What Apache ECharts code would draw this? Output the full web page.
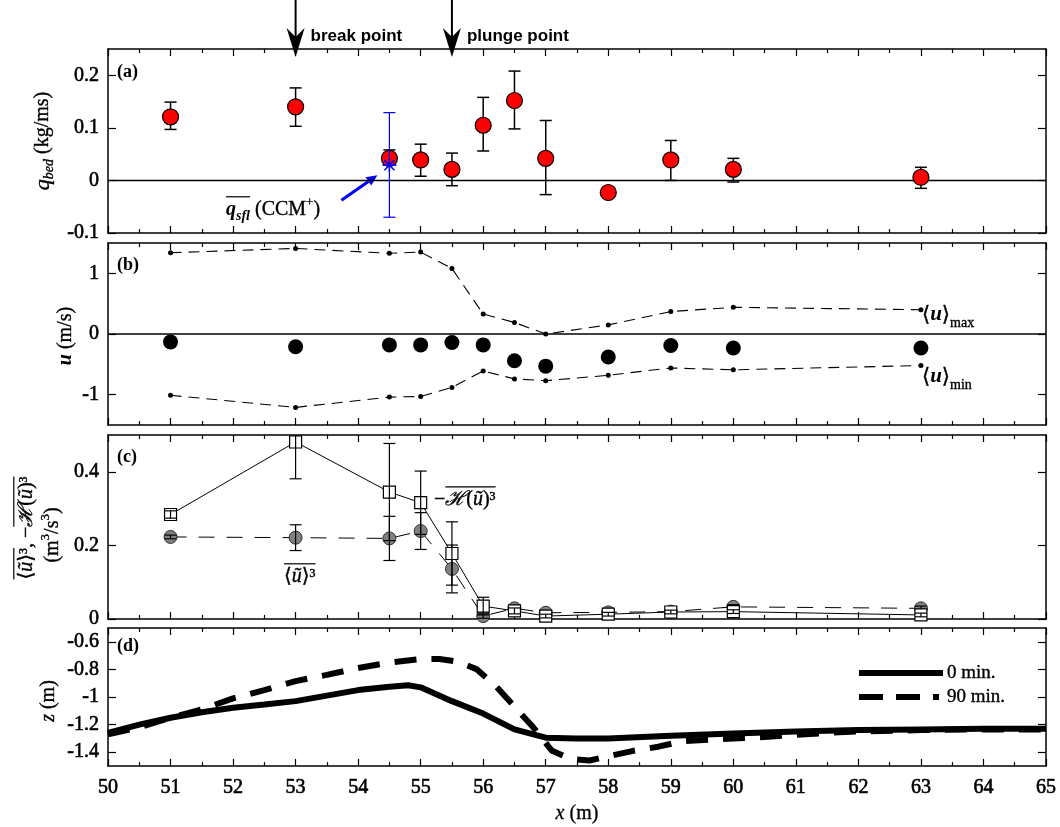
<!DOCTYPE html>
<html><head><meta charset="utf-8">
<script src="https://cdn.jsdelivr.net/npm/echarts@6/dist/echarts.min.js"></script>
<style>html,body{margin:0;padding:0;background:#fff}#c{width:1060px;height:827px}</style>
</head><body><div id="c"></div>
<script>
// ---------------- data ----------------
const xPos = [51, 53, 54.5, 55, 55.5, 56, 56.5, 57, 58, 59, 60, 63];
// (a) bed-load transport
const qBed   = [0.121, 0.140, 0.042, 0.039, 0.021, 0.105, 0.152, 0.042, -0.023, 0.039, 0.021, 0.006];
const qBedLo = [0.097, 0.103, 0.030, 0.008, -0.010, 0.056, 0.098, -0.027, null, 0.000, -0.003, -0.015];
const qBedHi = [0.149, 0.176, 0.058, 0.069, 0.052, 0.158, 0.208, 0.114, null, 0.076, 0.042, 0.025];
const qSflX = [54.5];
const qSfl = [0.029];
const qSflLo = [-0.070];
const qSflHi = [0.129];
// (b) velocities
const uMean = [-0.13, -0.21, -0.18, -0.18, -0.14, -0.18, -0.44, -0.53, -0.38, -0.19, -0.23, -0.23];
const uMax  = [1.34, 1.41, 1.33, 1.35, 1.08, 0.33, 0.19, 0.00, 0.15, 0.37, 0.44, 0.40];
const uMin  = [-1.01, -1.21, -1.04, -1.03, -0.88, -0.61, -0.74, -0.77, -0.68, -0.56, -0.59, -0.52];
// (c) velocity moments
const hU3   = [0.284, 0.481, 0.345, 0.316, 0.178, 0.035, 0.022, 0.008, 0.013, 0.019, 0.020, 0.011];
const hU3Lo = [0.274, 0.381, 0.213, 0.230, 0.092, 0.011, 0.014, 0.003, 0.008, 0.014, 0.015, 0.006];
const hU3Hi = [0.294, 0.581, 0.477, 0.402, 0.264, 0.059, 0.030, 0.013, 0.018, 0.024, 0.025, 0.016];
const u3    = [0.223, 0.221, 0.219, 0.239, 0.136, 0.008, 0.029, 0.017, 0.018, 0.020, 0.033, 0.029];
const u3Lo  = [0.218, 0.186, 0.159, 0.189, 0.071, 0.002, 0.023, 0.012, 0.013, 0.015, 0.027, 0.023];
const u3Hi  = [0.228, 0.256, 0.279, 0.289, 0.201, 0.014, 0.035, 0.022, 0.023, 0.025, 0.039, 0.035];
// (d) bed profiles
const bed0X = [50, 50.5, 51, 51.5, 52, 52.5, 53, 53.5, 54, 54.5, 54.8, 55, 55.5, 56, 56.5, 57, 57.5, 58, 59, 60, 61, 62, 63, 64, 65];
const bed0  = [-1.26, -1.20, -1.15, -1.11, -1.078, -1.055, -1.03, -0.99, -0.95, -0.925, -0.915, -0.93, -1.03, -1.12, -1.235, -1.295, -1.30, -1.30, -1.28, -1.265, -1.25, -1.24, -1.235, -1.23, -1.23];
const bed90X = [50, 50.5, 51, 51.5, 52, 52.5, 53, 53.5, 54, 54.5, 55, 55.3, 55.6, 55.9, 56.2, 56.5, 56.8, 57.1, 57.4, 57.7, 58.0, 58.4, 58.8, 59.2, 59.6, 60, 60.5, 61, 61.5, 62, 63, 64, 65];
const bed90  = [-1.27, -1.22, -1.15, -1.09, -1.01, -0.95, -0.885, -0.84, -0.79, -0.75, -0.725, -0.725, -0.745, -0.80, -0.92, -1.07, -1.22, -1.39, -1.45, -1.46, -1.43, -1.39, -1.36, -1.32, -1.31, -1.30, -1.29, -1.275, -1.26, -1.25, -1.24, -1.235, -1.235];
// axes / ticks
const xMin = 50, xMax = 65;
const yRange = [[-0.1, 0.25], [-1.5, 1.5], [0, 0.5], [-1.5, -0.5]];
const yTicks = [[-0.1, 0, 0.1, 0.2], [-1, 0, 1], [0, 0.2, 0.4], [-1.4, -1.2, -1, -0.8, -0.6]];
const markX = [53, 55.5];
const markText = ['break point', 'plunge point'];
const legendNames = ['0 min.', '90 min.'];

// ---------------- chart ----------------
const SERIF = '"Liberation Serif", "Times New Roman", "DejaVu Serif", serif';
const SANS = '"Liberation Sans", Arial, "DejaVu Sans", sans-serif';
const chart = echarts.init(document.getElementById('c'), null, {renderer: 'canvas'});

const gridTops = [49, 243, 435, 628];
const gridHeights = [184, 182, 184, 138];
const grids = gridTops.map((t, i) => ({left: 108, right: 14, top: t, height: gridHeights[i], outerBoundsMode: 'none'}));

const HEAVY = {textBorderColor: '#000', textBorderWidth: 0.6};
const axLine = {show: true, onZero: false, lineStyle: {color: '#000', width: 1.5}};
const xAxes = [], yAxes = [];
for (let g = 0; g < 4; g++) {
  ['bottom', 'top'].forEach(pos => {
    const showLab = (g === 3 && pos === 'bottom');
    const ax = {
      type: 'value', gridIndex: g, position: pos, min: xMin, max: xMax, interval: 1,
      axisLine: axLine,
      axisTick: {show: true, inside: true, length: 7, lineStyle: {color: '#000', width: 1.2}},
      minorTick: {show: true, splitNumber: 2, length: 4, lineStyle: {color: '#000', width: 1.2}},
      splitLine: {show: false}, minorSplitLine: {show: false},
      axisLabel: showLab ? Object.assign({show: true, margin: 12, fontFamily: SERIF, fontSize: 20, color: '#000'}, HEAVY) : {show: false}
    };
    if (showLab) {
      ax.name = '{i|x} (m)';
      ax.nameLocation = 'middle';
      ax.nameGap = 38;
      ax.nameTextStyle = {fontFamily: SERIF, fontSize: 20, color: '#000', textBorderColor: '#000', textBorderWidth: 0.3,
        rich: {i: {fontFamily: SERIF, fontSize: 20, fontStyle: 'italic', color: '#000', textBorderColor: '#000', textBorderWidth: 0.3}}};
    }
    xAxes.push(ax);
  });
  ['left', 'right'].forEach(pos => {
    yAxes.push({
      type: 'value', gridIndex: g, position: pos, min: yRange[g][0], max: yRange[g][1],
      axisLine: axLine,
      axisTick: {show: true, inside: true, length: 8, customValues: yTicks[g], lineStyle: {color: '#000', width: 1.2}},
      splitLine: {show: false},
      axisLabel: pos === 'left' ? Object.assign({show: true, customValues: yTicks[g], margin: 9, fontFamily: SERIF, fontSize: 20, color: '#000',
        formatter: v => String(+(+v).toFixed(3))}, HEAVY) : {show: false}
    });
  });
}

function pairs(xs, ys) { return xs.map((x, i) => [x, ys[i]]); }
function errData(xs, lo, hi) { return xs.map((x, i) => [x, lo[i], hi[i]]).filter(d => d[1] != null && d[2] != null); }
function errRender(color, cap, lw) {
  return function (params, api) {
    const x = api.value(0), lo = api.value(1), hi = api.value(2);
    const a = api.coord([x, lo]), b = api.coord([x, hi]);
    const st = {stroke: color, lineWidth: lw};
    return {type: 'group', children: [
      {type: 'line', shape: {x1: a[0], y1: a[1], x2: b[0], y2: b[1]}, style: st},
      {type: 'line', shape: {x1: a[0] - cap, y1: a[1], x2: a[0] + cap, y2: a[1]}, style: st},
      {type: 'line', shape: {x1: b[0] - cap, y1: b[1], x2: b[0] + cap, y2: b[1]}, style: st}
    ]};
  };
}
function starRender(color) {
  return function (params, api) {
    const p = api.coord([api.value(0), api.value(1)]);
    const r = 7, d = r * 0.72, st = {stroke: color, lineWidth: 1.5};
    return {type: 'group', children: [
      {type: 'line', shape: {x1: p[0] - r, y1: p[1], x2: p[0] + r, y2: p[1]}, style: st},
      {type: 'line', shape: {x1: p[0], y1: p[1] - r, x2: p[0], y2: p[1] + r}, style: st},
      {type: 'line', shape: {x1: p[0] - d, y1: p[1] - d, x2: p[0] + d, y2: p[1] + d}, style: st},
      {type: 'line', shape: {x1: p[0] - d, y1: p[1] + d, x2: p[0] + d, y2: p[1] - d}, style: st}
    ]};
  };
}
function zeroLine(g) {
  return {type: 'line', xAxisIndex: 2 * g, yAxisIndex: 2 * g, data: [[xMin, 0], [xMax, 0]], symbol: 'none', silent: true,
    lineStyle: {color: '#000', width: 1.5}, z: 1};
}

const series = [
  // (a)
  zeroLine(0),
  {type: 'custom', xAxisIndex: 0, yAxisIndex: 0, data: errData(xPos, qBedLo, qBedHi), renderItem: errRender('#000', 6, 1.5), clip: true, silent: true, z: 2},
  {type: 'scatter', xAxisIndex: 0, yAxisIndex: 0, data: pairs(xPos, qBed), symbol: 'circle', symbolSize: 16,
    itemStyle: {color: '#ff0000', borderColor: '#000', borderWidth: 1.2, opacity: 1}, z: 3},
  {type: 'custom', xAxisIndex: 0, yAxisIndex: 0, data: errData(qSflX, qSflLo, qSflHi), renderItem: errRender('#0000ff', 6, 1.2), clip: true, silent: true, z: 4},
  {type: 'custom', xAxisIndex: 0, yAxisIndex: 0, data: pairs(qSflX, qSfl), renderItem: starRender('#0000ff'), silent: true, z: 5},
  // (b)
  zeroLine(1),
  {type: 'line', xAxisIndex: 2, yAxisIndex: 2, data: pairs(xPos, uMax), symbol: 'circle', symbolSize: 5, showSymbol: true,
    lineStyle: {color: '#000', width: 1.1, type: [11, 7]}, itemStyle: {color: '#000', borderWidth: 0}, z: 2},
  {type: 'line', xAxisIndex: 2, yAxisIndex: 2, data: pairs(xPos, uMin), symbol: 'circle', symbolSize: 5, showSymbol: true,
    lineStyle: {color: '#000', width: 1.1, type: [11, 7]}, itemStyle: {color: '#000', borderWidth: 0}, z: 2},
  {type: 'scatter', xAxisIndex: 2, yAxisIndex: 2, data: pairs(xPos, uMean), symbol: 'circle', symbolSize: 15,
    itemStyle: {color: '#000', opacity: 1}, z: 3},
  // (c)
  {type: 'line', xAxisIndex: 4, yAxisIndex: 4, data: pairs(xPos, u3), symbol: 'circle', symbolSize: 13, showSymbol: true,
    lineStyle: {color: '#000', width: 1, type: [16, 12]}, itemStyle: {color: '#808080', borderColor: '#333', borderWidth: 1}, z: 2},
  {type: 'custom', xAxisIndex: 4, yAxisIndex: 4, data: errData(xPos, u3Lo, u3Hi), renderItem: errRender('#000', 6, 1.2), clip: true, silent: true, z: 3},
  {type: 'line', xAxisIndex: 4, yAxisIndex: 4, data: pairs(xPos, hU3), symbol: 'rect', symbolSize: 12, showSymbol: true,
    lineStyle: {color: '#000', width: 1}, itemStyle: {color: '#fff', borderColor: '#000', borderWidth: 1.2}, z: 4},
  {type: 'custom', xAxisIndex: 4, yAxisIndex: 4, data: errData(xPos, hU3Lo, hU3Hi), renderItem: errRender('#000', 6, 1.2), clip: true, silent: true, z: 5},
  // (d)
  {type: 'line', name: legendNames[0], xAxisIndex: 6, yAxisIndex: 6, data: pairs(bed0X, bed0), symbol: 'none',
    lineStyle: {color: '#000', width: 6}, itemStyle: {color: '#000'}, z: 3},
  {type: 'line', name: legendNames[1], xAxisIndex: 6, yAxisIndex: 6, data: pairs(bed90X, bed90), symbol: 'none',
    lineStyle: {color: '#000', width: 6, type: [22, 15]}, itemStyle: {color: '#000'}, z: 2}
];

chart.setOption({
  animation: false,
  backgroundColor: '#fff',
  grid: grids, xAxis: xAxes, yAxis: yAxes, series
});

// ---------------- text helpers ----------------
const mctx = document.createElement('canvas').getContext('2d');
function fontStr(s) { return (s.style || 'normal') + ' ' + (s.weight || 'normal') + ' ' + s.size + 'px ' + (s.family || SERIF); }
function seg(t, o) { return Object.assign({t: t, size: 20}, o || {}); }
function textRow(cx, cy, segs, rot, anchor) {
  let x = 0; const items = [];
  segs.forEach(s => { mctx.font = fontStr(s); const w = mctx.measureText(s.t).width; items.push({s, x, w}); x += w; });
  const total = x;
  const off = anchor === 'left' ? 0 : (anchor === 'right' ? -total : -total / 2);
  const children = []; const overs = {};
  items.forEach(({s, x, w}) => {
    children.push({type: 'text', x: x + off, y: s.dy || 0, style: {text: s.t, fontSize: s.size, fontStyle: s.style || 'normal',
      fontWeight: s.weight || 'normal', fontFamily: s.family || SERIF, fill: s.fill || '#000', align: 'left', verticalAlign: 'middle',
      stroke: s.weight === 'bold' ? null : '#000', lineWidth: s.weight === 'bold' ? 0 : 0.35}});
    if (s.over != null) {
      const o = overs[s.over] || (overs[s.over] = {x0: Infinity, x1: -Infinity, y: Infinity});
      o.x0 = Math.min(o.x0, x + off); o.x1 = Math.max(o.x1, x + off + w);
      o.y = Math.min(o.y, (s.dy || 0) - s.size * (s.overK || 0.66));
    }
  });
  Object.keys(overs).forEach(k => { const o = overs[k];
    children.push({type: 'line', shape: {x1: o.x0, y1: o.y, x2: o.x1, y2: o.y}, style: {stroke: '#000', lineWidth: 1.2}}); });
  return {type: 'group', x: cx, y: cy, rotation: rot || 0, children};
}

const R = Math.PI / 2;
const graphics = [];
// y-axis names
graphics.push(textRow(43, 141, [seg('q', {style: 'italic', size: 22}), seg('bed', {style: 'italic', size: 14, dy: 6}), seg(' (kg/ms)')], R));
graphics.push(textRow(66, 336, [seg('u', {style: 'italic', weight: 'bold'}), seg(' (m/s)')], R));
graphics.push(textRow(27, 528, [seg('⟨', {over: 1}), seg('ũ', {style: 'italic', over: 1}), seg('⟩', {over: 1}), seg('³', {over: 1}),
  seg(', −'), seg('ℋ', {style: 'italic', over: 2}), seg('(', {over: 2}), seg('ũ', {style: 'italic', over: 2}), seg(')³', {over: 2})], R));
graphics.push(textRow(53, 535, [seg('(m'), seg('3', {size: 13, dy: -7}), seg('/s'), seg('3', {size: 13, dy: -7}), seg(')')], R));
graphics.push(textRow(49, 701, [seg('z', {style: 'italic'}), seg(' (m)')], R));
// panel tags
['(a)', '(b)', '(c)', '(d)'].forEach((t, i) => graphics.push(textRow(117, gridTops[i] + [23, 22, 22, 18][i], [seg(t, {weight: 'bold', size: 18})], 0, 'left')));
// annotations (b)
graphics.push(textRow(922, 315, [seg('⟨', {size: 21}), seg('u', {style: 'italic', weight: 'bold', size: 21}), seg('⟩', {size: 21}), seg('max', {size: 14, dy: 8})], 0, 'left'));
graphics.push(textRow(922, 377, [seg('⟨', {size: 21}), seg('u', {style: 'italic', weight: 'bold', size: 21}), seg('⟩', {size: 21}), seg('min', {size: 14, dy: 8})], 0, 'left'));
// annotations (c)
graphics.push(textRow(434, 500, [seg('−'), seg('ℋ', {style: 'italic', over: 1}), seg('(', {over: 1}), seg('ũ', {style: 'italic', over: 1}), seg(')³', {over: 1})], 0, 'left'));
graphics.push(textRow(284, 577, [seg('⟨', {over: 1}), seg('ũ', {style: 'italic', over: 1}), seg('⟩', {over: 1}), seg('³', {over: 1})], 0, 'left'));
// annotation (a): q_sfl (CCM+) with arrow
graphics.push(textRow(226, 210, [seg('q', {style: 'italic', weight: 'bold', over: 1}), seg('sfl', {style: 'italic', weight: 'bold', size: 14, dy: 6, over: 1}),
  seg(' (CCM'), seg('+', {size: 13, dy: -7}), seg(')')], 0, 'left'));
const P = chart.convertToPixel({xAxisIndex: 0, yAxisIndex: 0}, [qSflX[0], qSfl[0]]);
(function () {
  const S = [P[0] - 48, P[1] + 35], T = [P[0] - 12, P[1] + 10];
  const dx = T[0] - S[0], dy = T[1] - S[1], L = Math.hypot(dx, dy), ux = dx / L, uy = dy / L;
  const B = [T[0] - ux * 11, T[1] - uy * 11], nx = -uy, ny = ux;
  graphics.push({type: 'line', shape: {x1: S[0], y1: S[1], x2: B[0], y2: B[1]}, style: {stroke: '#0000ff', lineWidth: 3}});
  graphics.push({type: 'polygon', shape: {points: [T, [B[0] + nx * 5, B[1] + ny * 5], [B[0] - nx * 5, B[1] - ny * 5]]}, style: {fill: '#0000ff'}});
})();
// break / plunge point arrows
markX.forEach((mx, i) => {
  const px = chart.convertToPixel({xAxisIndex: 0}, mx);
  graphics.push({type: 'line', shape: {x1: px, y1: 0, x2: px, y2: 40}, style: {stroke: '#000', lineWidth: 2}});
  graphics.push({type: 'polygon', shape: {points: [[px - 9, 28], [px, 57], [px + 9, 28], [px, 37]]}, style: {fill: '#000'}});
  graphics.push({type: 'text', x: px + 15, y: 36, style: {text: markText[i], fontFamily: SANS, fontWeight: 'bold', fontSize: 17, fill: '#000', align: 'left', verticalAlign: 'middle'}});
});
// legend of panel (d)
const legY = [673, 697];
const legDash = [null, [24, 13]];
legendNames.forEach((nm, i) => {
  graphics.push({type: 'line', shape: {x1: 859, y1: legY[i], x2: i === 0 ? 943 : 939, y2: legY[i]},
    style: {stroke: '#000', lineWidth: 6, lineDash: legDash[i]}});
  graphics.push({type: 'text', x: 947, y: legY[i], style: {text: nm, fontFamily: SERIF, fontSize: 19, fill: '#000', align: 'left', verticalAlign: 'middle', stroke: '#000', lineWidth: 0.35}});
});

chart.setOption({graphic: graphics});
</script>
</body></html>
